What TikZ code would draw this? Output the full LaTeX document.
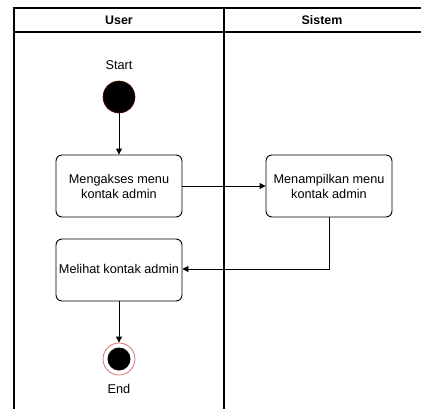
\documentclass[tikz,border=0pt]{standalone}
\usepackage{fontspec}
\setmainfont{Liberation Sans}
\usetikzlibrary{arrows.meta}
\definecolor{ringred}{HTML}{E07070}
\definecolor{darkedge}{HTML}{5A0A0A}
\begin{document}
\begin{tikzpicture}[x=1pt,y=-1pt,
  font=\fontsize{12.7}{15}\selectfont,
  lane/.style={draw=black,line width=1.2pt},
  actbox/.style={draw=black,line width=0.9pt,rounded corners=6pt,minimum width=126pt,minimum height=62pt,align=center,inner sep=0pt},
  flow/.style={draw=black,line width=0.9pt,-{Triangle[length=6pt,width=6pt]}},
  hdr/.style={font=\fontsize{12.4}{14.5}\selectfont\bfseries}]
  \useasboundingbox (0,0) rectangle (421,408);
  \clip (0,0) rectangle (421,408);
  \fill[white] (0,0) rectangle (421,408);
  % swimlane frame
  \draw[lane] (14,420) -- (14,8) -- (430,8);
  \draw[lane] (14,32) -- (430,32);
  \draw[lane] (224,8) -- (224,420);
  \node[hdr] (huser) at (119,20) {User};
  \node[hdr] (hsys) at (322,20) {Sistem};
  % start node
  \node (lstart) at (119,65) {Start};
  \node[circle,fill=black,draw=darkedge,line width=0.6pt,minimum size=32pt,inner sep=0pt] (start) at (119,97) {};
  % activities
  \node[actbox] (a1) at (119,186) {Mengakses menu\\kontak admin};
  \node[actbox] (a2) at (329,186) {Menampilkan menu\\kontak admin};
  \node[actbox] (a3) at (119,270) {};
  \node (a3t) at (119,269) {Melihat kontak admin};
  % end node
  \node[circle,fill=white,draw=ringred,line width=0.8pt,minimum size=32pt,inner sep=0pt] (end) at (119,359) {};
  \node[circle,fill=black,minimum size=23pt,inner sep=0pt] (endin) at (end.center) {};
  \node (lend) at (119,389) {End};
  % connectors
  \draw[flow] (start) -- (a1);
  \draw[flow] (a1) -- (a2);
  \draw[flow] (a2.south) |- (a3.east |- a3t);
  \draw[flow] (a3) -- (end);
\end{tikzpicture}
\end{document}
